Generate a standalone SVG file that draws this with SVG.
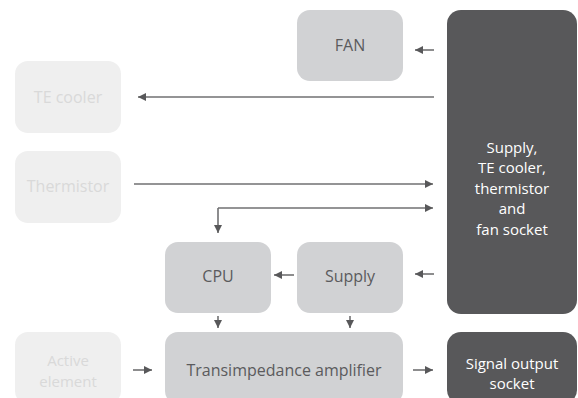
<svg xmlns="http://www.w3.org/2000/svg" width="578" height="398" viewBox="0 0 578 398">
<defs>
<style>
text{font-family:"Open Sans","Noto Sans","Liberation Sans",sans-serif;font-size:16px;text-anchor:middle}
text.ml{font-size:15px}
.light rect{fill:#efefef}
.light text{fill:#d9d9d9}
.mid rect{fill:#d1d2d4}
.mid text{fill:#5b5b5d}
.dark rect{fill:#58585a}
.dark text{fill:#ffffff}
.conn path{fill:none;stroke:#707072;stroke-width:1.6}
</style>
<marker id="ah" markerUnits="userSpaceOnUse" markerWidth="9" markerHeight="9" refX="8" refY="4" orient="auto">
<path d="M0,0 L8,4 L0,8 z" fill="#58585a"/>
</marker>
</defs>
<rect width="578" height="398" fill="#ffffff"/>
<g id="fan" class="mid"><rect x="297" y="10" width="106" height="71" rx="13"/><text x="350" y="51">FAN</text></g>
<g id="te-cooler" class="light"><rect x="15" y="61" width="106" height="72" rx="13"/><text x="68" y="103">TE cooler</text></g>
<g id="thermistor" class="light"><rect x="15" y="151" width="106" height="72" rx="13"/><text x="68" y="192">Thermistor</text></g>
<g id="socket" class="dark"><rect x="447" y="10" width="130" height="304" rx="14"/>
<text class="ml" x="512" y="152.5">Supply,</text><text class="ml" x="512" y="173">TE cooler,</text><text class="ml" x="512" y="193.5">thermistor</text><text class="ml" x="512" y="214">and</text><text class="ml" x="512" y="234.5">fan socket</text></g>
<g id="cpu" class="mid"><rect x="165" y="242" width="106" height="71" rx="13"/><text x="218" y="281.5">CPU</text></g>
<g id="supply" class="mid"><rect x="297" y="242" width="106" height="71" rx="13"/><text x="350" y="281.5">Supply</text></g>
<g id="active" class="light"><rect x="15" y="332" width="106" height="72" rx="13"/><text class="ml" x="68" y="366">Active</text><text class="ml" x="68" y="386.5">element</text></g>
<g id="tia" class="mid"><rect x="165" y="332" width="238" height="72" rx="13"/><text x="284" y="375.5">Transimpedance amplifier</text></g>
<g id="signal" class="dark"><rect x="447" y="332" width="130" height="72" rx="14"/><text class="ml" x="512" y="368.5">Signal output</text><text class="ml" x="512" y="389">socket</text></g>
<g id="connectors" class="conn">
<path d="M434,50 H415" marker-end="url(#ah)"/>
<path d="M434,97 H138" marker-end="url(#ah)"/>
<path d="M134,184 H433" marker-end="url(#ah)"/>
<path d="M218,208 H433" marker-end="url(#ah)"/>
<path d="M218,208 V233" marker-end="url(#ah)"/>
<path d="M294,275 H274" marker-end="url(#ah)"/>
<path d="M434,274 H415" marker-end="url(#ah)"/>
<path d="M218,316 V328" marker-end="url(#ah)"/>
<path d="M350,316 V328" marker-end="url(#ah)"/>
<path d="M133,370 H152" marker-end="url(#ah)"/>
<path d="M413,370 H433" marker-end="url(#ah)"/>
</g>
</svg>
